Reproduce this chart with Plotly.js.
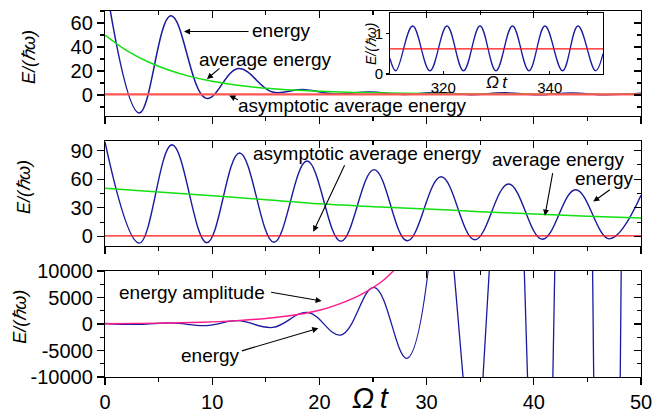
<!DOCTYPE html>
<html><head><meta charset="utf-8">
<script src="https://cdn.plot.ly/plotly-3.0.1.min.js"></script>
<style>html,body{margin:0;padding:0;background:#fff}#chart{width:668px;height:418px}</style>
</head><body><div id="chart"></div>
<script>
// ---------- data ----------
// Panel 1 (top): damped case
const p1EnergyT = [0, 3.2, 6.15, 9.45, 12.45, 15.6, 18.4, 21.5, 24.7, 27.8, 31.0, 34.1, 37.3, 40.4, 43.5, 46.7, 50];
const p1EnergyE = [97, -15, 66, -2.8, 22, 2.5, 4.6, 0.9, 2.4, 0.5, 2.0, 0.3, 1.8, 0.2, 1.6, 0.2, 1.4];
const p1AvgT = [0, 2, 4, 6, 8, 10, 12, 14, 16, 18, 20, 25, 30, 35, 40, 45, 50];
const p1AvgE = [50, 37.2, 27.7, 20.6, 15.3, 11.4, 8.6, 6.5, 5.0, 3.9, 3.1, 1.8, 1.2, 0.9, 0.75, 0.7, 0.65];
const asymT = [0, 50];
const asymE = [0.6, 0.6];
// Inset (long time)
const insetT = [310, 311.1, 314.25, 317.5, 320.7, 323.8, 326.9, 329.9, 333.0, 336.1, 339.1, 342.4, 345.3, 348.6, 350];
const insetE = [0.38, 0.08, 1.18, 0.08, 1.18, 0.08, 1.18, 0.08, 1.18, 0.08, 1.18, 0.08, 1.18, 0.08, 0.5];
const insetAsymT = [310, 350];
const insetAsymE = [0.62, 0.62];
// Panel 2 (middle): weakly damped case
const p2EnergyT = [0, 3.2, 6.25, 9.5, 12.55, 15.75, 18.85, 22.0, 25.1, 28.2, 31.35, 34.5, 37.65, 40.8, 43.9, 47.05, 50];
const p2EnergyE = [99, -7, 96, -6.5, 87.5, -6, 79, -5, 70, -4.5, 62.5, -3.5, 55, -3, 49, -2.5, 43];
const p2AvgT = [0, 5, 10, 15, 20, 25, 30, 35, 40, 45, 50];
const p2AvgE = [50.5, 46.5, 42.7, 38.5, 34.2, 31.2, 28.8, 26, 23.5, 21.3, 19.3];
// Panel 3 (bottom): growing case
const p3EnergyEarlyT = [0, 3.2, 6.2, 9.45, 12.4, 15.65, 18.9, 22.0, 25.1, 28.15, 31.4];
const p3EnergyEarlyE = [97, -80, 200, -300, 620, -650, 2200, -2080, 6920, -6470, 37600];
const p3EnergyLateT = [31.4, 34.5, 38.0, 40.9, 44.2, 46.9, 50];
const p3EnergyLateE = [37600, -36200, 84100, -108800, 263000, -268000, 420000];
const p3AmpT = [0, 3, 6, 9, 12, 15, 18, 20, 22, 24, 26, 28];
const p3AmpE = [60, 110, 190, 340, 600, 1050, 1800, 2600, 3900, 5700, 8300, 12500];
// Tick labels
const xTickVals = [0, 10, 20, 30, 40, 50];
const xTickText = ['0', '10', '20', '30', '40', '50'];
const xMinorVals = [5, 15, 25, 35, 45];
const y1TickVals = [0, 20, 40, 60];
const y1TickText = ['0', '20', '40', '60'];
const y1MinorVals = [-10, 10, 30, 50, 70];
const y2TickVals = [0, 30, 60, 90];
const y2TickText = ['0', '30', '60', '90'];
const y2MinorVals = [15, 45, 75];
const y3TickVals = [-10000, -5000, 0, 5000, 10000];
const y3TickText = ['-10000', '-5000', '0', '5000', '10000'];
const y3MinorVals = [-7500, -2500, 2500, 7500];
const insetXTickVals = [320, 340];
const insetXTickText = ['320', '340'];
const insetYTickVals = [0, 1];
const insetYTickText = ['0', '1'];
const emptyT = [];
const emptyE = [];

// ---------- styling ----------
const FONT = 'Liberation Sans, Arial, Helvetica, sans-serif';
const BLUE = '#1a1a9e', GREEN = '#11e011', RED = '#ff1010', PINK = '#ff1a8c';

const traces = [
  {x: p1EnergyT, y: p1EnergyE, xaxis: 'x3', yaxis: 'y3', mode: 'lines', line: {color: BLUE, width: 1.5, shape: 'spline', smoothing: 1.1}},
  {x: p1AvgT, y: p1AvgE, xaxis: 'x3', yaxis: 'y3', mode: 'lines', line: {color: GREEN, width: 1.5, shape: 'spline'}},
  {x: asymT, y: asymE, xaxis: 'x3', yaxis: 'y3', mode: 'lines', line: {color: '#ff5555', width: 2.3}},
  {x: insetT, y: insetE, xaxis: 'x4', yaxis: 'y4', mode: 'lines', line: {color: BLUE, width: 1.3, shape: 'spline', smoothing: 1.1}},
  {x: insetAsymT, y: insetAsymE, xaxis: 'x4', yaxis: 'y4', mode: 'lines', line: {color: RED, width: 1.3}},
  {x: p2EnergyT, y: p2EnergyE, xaxis: 'x2', yaxis: 'y2', mode: 'lines', line: {color: BLUE, width: 1.4, shape: 'spline', smoothing: 1.1}},
  {x: p2AvgT, y: p2AvgE, xaxis: 'x2', yaxis: 'y2', mode: 'lines', line: {color: GREEN, width: 1.5, shape: 'spline'}},
  {x: asymT, y: asymE, xaxis: 'x2', yaxis: 'y2', mode: 'lines', line: {color: RED, width: 1.3}},
  {x: p3EnergyEarlyT, y: p3EnergyEarlyE, xaxis: 'x', yaxis: 'y', mode: 'lines', line: {color: BLUE, width: 1.3, shape: 'spline', smoothing: 1.1}},
  {x: p3EnergyLateT, y: p3EnergyLateE, xaxis: 'x', yaxis: 'y', mode: 'lines', line: {color: BLUE, width: 1.3}},
  {x: p3AmpT, y: p3AmpE, xaxis: 'x', yaxis: 'y', mode: 'lines', line: {color: PINK, width: 1.4, shape: 'spline'}},
  // empty traces that only register the mirrored (top / right) tick axes
  {x: emptyT, y: emptyE, xaxis: 'x5', yaxis: 'y5', mode: 'lines', hoverinfo: 'skip'},
  {x: emptyT, y: emptyE, xaxis: 'x6', yaxis: 'y6', mode: 'lines', hoverinfo: 'skip'},
  {x: emptyT, y: emptyE, xaxis: 'x7', yaxis: 'y7', mode: 'lines', hoverinfo: 'skip'}
];

const tickFont = {family: FONT, size: 20, color: '#000'};
function baseAxis(extra) {
  return Object.assign({
    showline: true, linecolor: '#000', linewidth: 1.2, mirror: true,
    ticks: 'outside', ticklen: 7, tickwidth: 1.2, tickcolor: '#000',
    showgrid: false, zeroline: false, tickfont: tickFont, fixedrange: true
  }, extra);
}
function minor(vals, side) {
  return {tickmode: 'array', tickvals: vals, ticks: side, ticklen: 4, tickwidth: 1.2, tickcolor: '#000', showgrid: false};
}
function overlayAxis(extra) {
  return Object.assign({
    showline: false, ticks: 'inside', ticklen: 7, tickwidth: 1.2, tickcolor: '#000',
    showgrid: false, zeroline: false, showticklabels: false, fixedrange: true, tickmode: 'array'
  }, extra);
}

const D3 = [0, 0.2896], D2 = [0.3579, 0.6448], D1 = [0.7131, 1];

const layout = {
  width: 668, height: 418,
  margin: {l: 105, r: 27, t: 11, b: 41},
  paper_bgcolor: '#fff', plot_bgcolor: 'rgba(0,0,0,0)',
  showlegend: false,
  font: {family: FONT, color: '#000'},
  xaxis: baseAxis({domain: [0, 1], anchor: 'y', range: [0, 50], tickmode: 'array', tickvals: xTickVals, ticktext: xTickText, minor: minor(xMinorVals, 'outside')}),
  xaxis2: baseAxis({domain: [0, 1], anchor: 'y2', range: [0, 50], tickmode: 'array', tickvals: xTickVals, ticktext: xTickText, showticklabels: false, minor: minor(xMinorVals, 'outside')}),
  xaxis3: baseAxis({domain: [0, 1], anchor: 'y3', range: [0, 50], tickmode: 'array', tickvals: xTickVals, ticktext: xTickText, showticklabels: false, minor: minor(xMinorVals, 'outside')}),
  yaxis: baseAxis({domain: D3, anchor: 'x', range: [-10000, 10000], tickmode: 'array', tickvals: y3TickVals, ticktext: y3TickText, minor: minor(y3MinorVals, 'outside')}),
  yaxis2: baseAxis({domain: D2, anchor: 'x2', range: [-10, 100], tickmode: 'array', tickvals: y2TickVals, ticktext: y2TickText, minor: minor(y2MinorVals, 'outside')}),
  yaxis3: baseAxis({domain: D1, anchor: 'x3', range: [-17.5, 70], tickmode: 'array', tickvals: y1TickVals, ticktext: y1TickText, minor: minor(y1MinorVals, 'outside')}),
  // mirrored inward ticks (top / right)
  xaxis5: overlayAxis({overlaying: 'x', anchor: 'y5', side: 'top', range: [0, 50], tickvals: xTickVals, minor: minor(xMinorVals, 'inside')}),
  xaxis6: overlayAxis({overlaying: 'x2', anchor: 'y6', side: 'top', range: [0, 50], tickvals: xTickVals, minor: minor(xMinorVals, 'inside')}),
  xaxis7: overlayAxis({overlaying: 'x3', anchor: 'y7', side: 'top', range: [0, 50], tickvals: xTickVals, minor: minor(xMinorVals, 'inside')}),
  yaxis5: overlayAxis({overlaying: 'y', anchor: 'x5', side: 'right', range: [-10000, 10000], tickvals: y3TickVals, minor: minor(y3MinorVals, 'inside')}),
  yaxis6: overlayAxis({overlaying: 'y2', anchor: 'x6', side: 'right', range: [-10, 100], tickvals: y2TickVals, minor: minor(y2MinorVals, 'inside')}),
  yaxis7: overlayAxis({overlaying: 'y3', anchor: 'x7', side: 'right', range: [-17.5, 70], tickvals: y1TickVals, minor: minor(y1MinorVals, 'inside')}),
  // inset
  xaxis4: baseAxis({domain: [0.5317, 0.9291], anchor: 'y4', range: [310, 350], tickmode: 'array', tickvals: insetXTickVals, ticktext: insetXTickText, ticks: 'inside', ticklen: 3, linewidth: 1, tickfont: {family: FONT, size: 15, color: '#000'}}),
  yaxis4: baseAxis({domain: [0.8279, 0.9945], anchor: 'x4', range: [0, 1.5], tickmode: 'array', tickvals: insetYTickVals, ticktext: insetYTickText, ticklen: 3, linewidth: 1, tickfont: {family: FONT, size: 15, color: '#000'}}),
  annotations: []
};

const ann = layout.annotations;
const txtFont = {family: FONT, size: 19, color: '#000'};
function label(xref, yref, x, y, text) {
  ann.push({xref: xref, yref: yref, x: x, y: y, text: text, showarrow: false, font: txtFont, xanchor: 'center', yanchor: 'middle'});
}
function arrow(xref, yref, x, y, ax, ay) {
  ann.push({xref: xref, yref: yref, x: x, y: y, ax: ax, ay: ay, text: '', showarrow: true,
            arrowhead: 2, arrowsize: 1.1, arrowwidth: 1.1, arrowcolor: '#000', standoff: 0, startstandoff: 0});
}
// panel 1
label('x3', 'y3', 16.42, 53.6, 'energy');
arrow('x3', 'y3', 7.37, 52.9, 66, 0);
label('x3', 'y3', 14.97, 29.4, 'average energy');
arrow('x3', 'y3', 9.51, 13.3, 14, -12);
label('x3', 'y3', 23.09, -8.75, 'asymptotic average energy');
arrow('x3', 'y3', 11.6, -0.4, 10, 5);
// panel 2
label('x2', 'y2', 24.49, 86.4, 'asymptotic average energy');
arrow('x2', 'y2', 19.43, 5.0, 32, -68);
label('x2', 'y2', 42.29, 80.5, 'average energy');
arrow('x2', 'y2', 41.04, 21.8, 8, -44);
label('x2', 'y2', 46.55, 60.2, 'energy');
arrow('x2', 'y2', 45.55, 36.5, 18, -13);
// panel 3
label('x', 'y', 8.09, 5962, 'energy amplitude');
arrow('x', 'y', 20.21, 4340, -52, -9);
label('x', 'y', 9.84, -5981, 'energy');
arrow('x', 'y', 19.9, -811, -78, 23);
// axis titles
const yTitle = '<i>E/(ℏω)</i>';
[[-0.1431, 0.8751], [-0.1524, 0.5199], [-0.1586, 0.1648]].forEach(function (p) {
  ann.push({xref: 'paper', yref: 'paper', x: p[0], y: p[1], text: yTitle, textangle: -90, showarrow: false,
            font: {family: FONT, size: 18, color: '#000'}, xanchor: 'center', yanchor: 'middle'});
});
ann.push({xref: 'paper', yref: 'paper', x: 0.4963, y: -0.0574, text: '<i>Ω\u2009t</i>', showarrow: false,
          font: {family: FONT, size: 29, color: '#000'}, xanchor: 'center', yanchor: 'middle'});
// inset titles
ann.push({xref: 'paper', yref: 'paper', x: 0.4963, y: 0.9098, text: yTitle, textangle: -90, showarrow: false,
          font: {family: FONT, size: 14, color: '#000'}, xanchor: 'center', yanchor: 'middle'});
ann.push({xref: 'paper', yref: 'paper', x: 0.7313, y: 0.8033, text: '<i>Ω\u2009t</i>', showarrow: false,
          font: {family: FONT, size: 17, color: '#000'}, xanchor: 'center', yanchor: 'middle'});

Plotly.newPlot('chart', traces, layout, {staticPlot: true, displayModeBar: false});
</script></body></html>
